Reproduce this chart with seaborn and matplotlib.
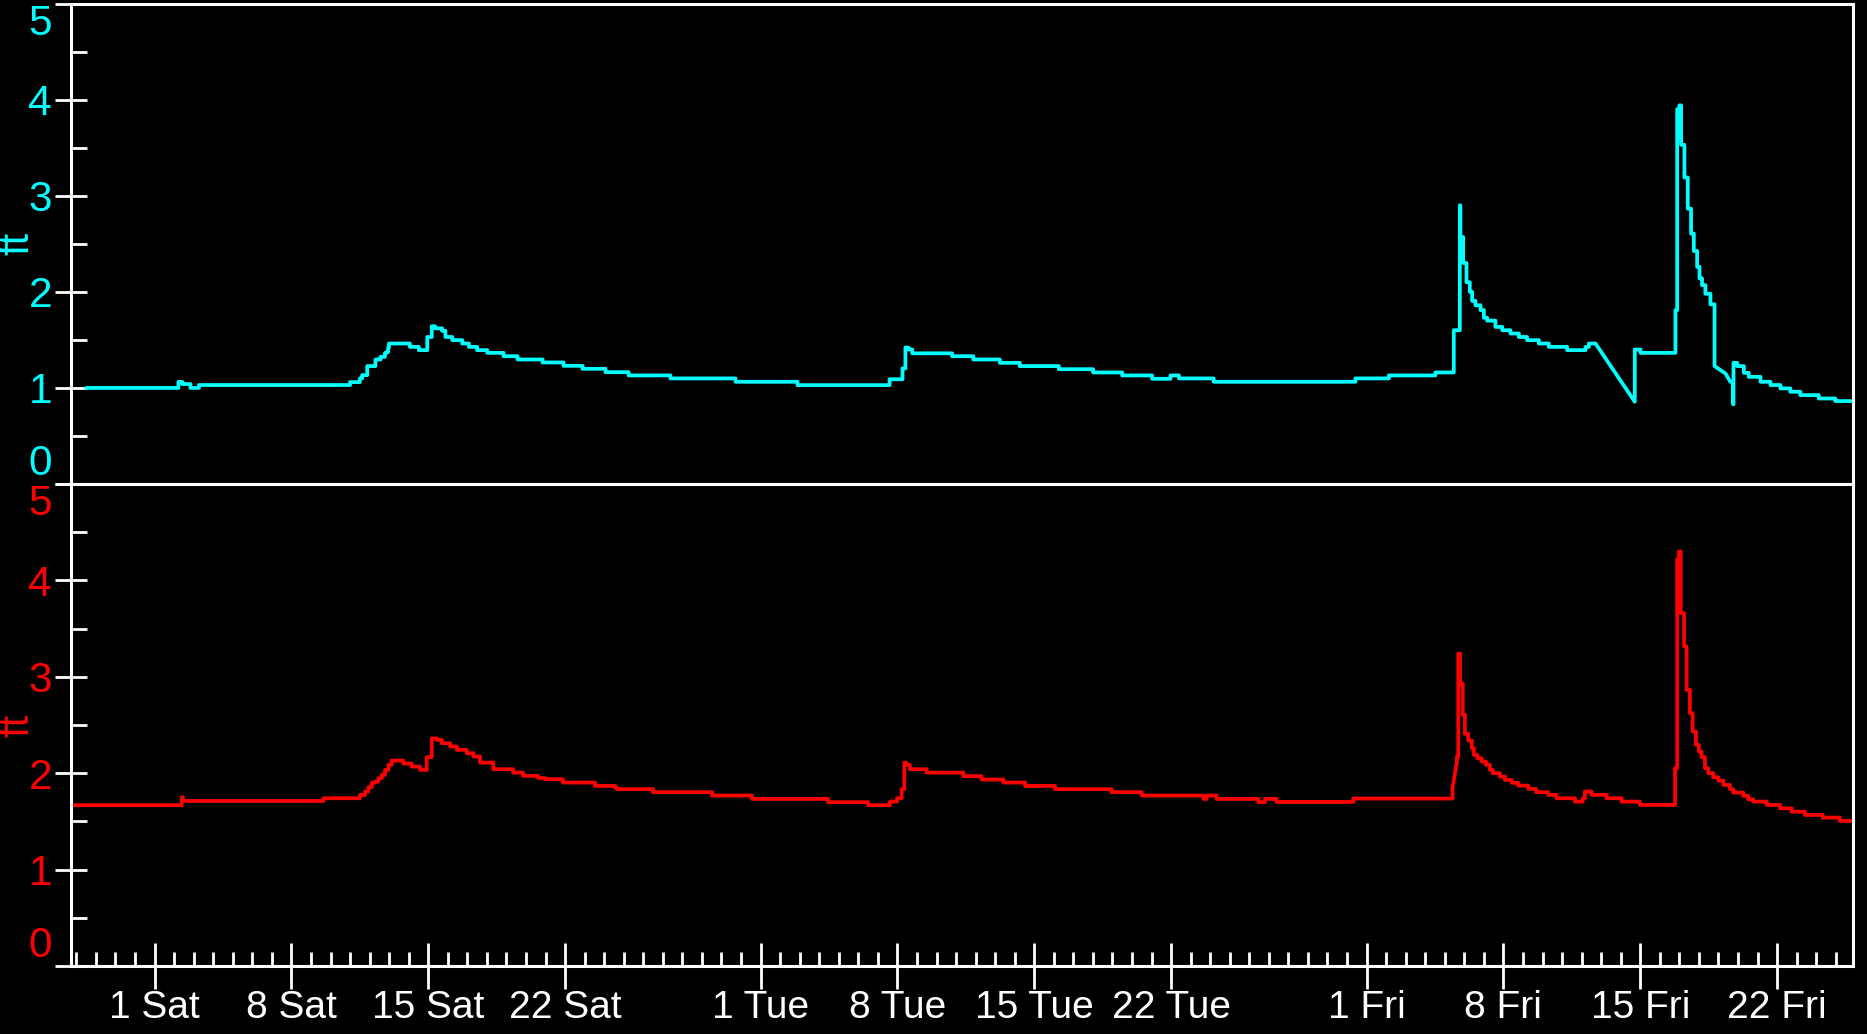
import pandas as pd
import matplotlib
matplotlib.use("Agg")
import matplotlib.pyplot as plt
import matplotlib.dates as mdates
from matplotlib.ticker import MultipleLocator, FuncFormatter
import seaborn as sns

start = pd.Timestamp("2017-07-01")

# readings: days after 1 Jul 2017 and the level (ft) held from then on
top_days = [-3.5, 1.22, 1.42, 1.84, 2.27, 10.0, 10.5, 10.62, 10.88, 11.3, 11.56, 11.78,
            11.86, 11.95, 11.99, 13.06, 13.52, 13.95, 14.18, 14.35, 14.71, 14.88, 15.23,
            15.74, 16.08, 16.5, 17.02, 17.85, 18.57, 19.85, 20.92, 21.89, 23.07, 24.25,
            26.39, 29.72, 32.89, 37.6, 38.26, 38.41, 38.57, 38.76, 40.8, 41.88, 43.24,
            44.26, 46.26, 48.01, 49.5, 51.03, 51.97, 52.4, 54.18, 61.43, 63.14, 65.52,
            66.46, 66.77, 66.8, 66.94, 67.11, 67.28, 67.40, 67.57, 67.83, 68.0, 68.17,
            68.59, 68.94, 69.36, 69.79, 70.21, 70.81, 71.32, 72.26, 73.2, 73.37, 73.71,
            75.72, 75.72, 76.01, 77.8, 77.89, 77.95, 78.0, 78.09, 78.26, 78.43, 78.60,
            78.74, 78.91, 79.03, 79.16, 79.33, 79.59, 79.80, 80.36, 80.61, 80.75, 80.77,
            80.96, 81.3, 81.55, 82.15, 82.66, 83.17, 83.68, 84.19, 85.13, 85.98, 86.88]
top_vals = [1.00, 1.063, 1.04, 1.00, 1.03, 1.06, 1.10, 1.133, 1.227, 1.296, 1.323, 1.36,
            1.375, 1.42, 1.462, 1.427, 1.393, 1.53, 1.642, 1.62, 1.594, 1.53, 1.497,
            1.462, 1.427, 1.393, 1.365, 1.33, 1.296, 1.265, 1.23, 1.199, 1.164, 1.13,
            1.099, 1.064, 1.029, 1.09, 1.203, 1.42, 1.40, 1.36, 1.33, 1.296, 1.261,
            1.227, 1.195, 1.161, 1.13, 1.095, 1.13, 1.099, 1.064, 1.099, 1.13, 1.161,
            1.60, 2.90, 2.57, 2.30, 2.10, 2.00, 1.906, 1.86, 1.81, 1.73, 1.70,
            1.635, 1.60, 1.566, 1.53, 1.497, 1.462, 1.427, 1.393, 1.427, 1.462, 1.462,
            0.856, 1.40, 1.365, 1.81, 3.90, 3.60, 3.94, 3.53, 3.19, 2.865, 2.606,
            2.425, 2.26, 2.14, 2.07, 1.98, 1.87, 1.227, 1.15, 1.064, 0.83, 1.261,
            1.227, 1.157, 1.115, 1.064, 1.03, 0.995, 0.96, 0.925, 0.89, 0.863, 0.863]
# readings reached by a straight run from the previous one (data gaps)
top_ramps = [(75.72, 0.856), (80.36, 1.15), (80.61, 1.064)]

bot_days = [-4.6, 1.39, 1.45, 8.64, 10.51, 10.77, 10.94, 11.11, 11.28, 11.45, 11.62, 11.79,
            11.96, 12.13, 12.73, 13.15, 13.58, 13.92, 14.18, 14.43, 14.69, 15.12, 15.46,
            15.97, 16.31, 16.65, 17.33, 18.34, 18.85, 19.62, 19.97, 20.89, 22.53, 23.55,
            23.66, 25.5, 28.52, 30.56, 34.45, 36.5, 37.62, 37.98, 38.22, 38.35, 38.45,
            38.64, 39.5, 41.37, 42.31, 43.42, 44.53, 46.06, 48.96, 50.5, 53.65, 53.82,
            54.33, 56.46, 56.8, 57.4, 61.32, 66.4, 66.61, 66.62, 66.69, 66.78, 66.92,
            67.03, 67.2, 67.38, 67.49, 67.66, 67.89, 68.11, 68.31, 68.45, 68.82, 69.08,
            69.42, 69.76, 70.27, 70.67, 71.29, 71.72, 72.66, 73.05, 73.17, 73.51, 74.28,
            75.05, 75.98, 77.78, 77.89, 77.95, 77.98, 78.07, 78.24, 78.37, 78.54, 78.68,
            78.85, 79.0, 79.14, 79.31, 79.48, 79.73, 79.99, 80.25, 80.59, 80.76, 81.27,
            81.52, 81.78, 82.47, 83.15, 83.74, 84.42, 85.33, 86.21, 86.88]
bot_vals = [1.668, 1.75, 1.712, 1.740, 1.775, 1.81, 1.855, 1.90, 1.913, 1.948, 1.982, 2.034,
            2.086, 2.131, 2.10, 2.068, 2.034, 2.166, 2.36, 2.346, 2.311, 2.277, 2.242,
            2.207, 2.173, 2.11, 2.041, 2.006, 1.972, 1.95, 1.937, 1.903, 1.868, 1.85,
            1.834, 1.803, 1.768, 1.733, 1.699, 1.668, 1.706, 1.74, 1.834, 2.11, 2.086,
            2.041, 2.006, 1.969, 1.934, 1.903, 1.868, 1.834, 1.803, 1.768, 1.733, 1.768,
            1.733, 1.70, 1.733, 1.702, 1.737, 1.85, 2.104, 2.173, 3.24, 2.93, 2.605,
            2.408, 2.339, 2.26, 2.19, 2.155, 2.12, 2.086, 2.034, 2.0, 1.965, 1.93,
            1.90, 1.871, 1.837, 1.803, 1.775, 1.74, 1.705, 1.74, 1.81, 1.775, 1.74,
            1.705, 1.671, 2.052, 4.22, 3.70, 4.30, 3.66, 3.315, 2.865, 2.623, 2.432,
            2.294, 2.224, 2.166, 2.052, 2.0, 1.958, 1.923, 1.878, 1.834, 1.799, 1.764,
            1.73, 1.705, 1.671, 1.636, 1.601, 1.567, 1.539, 1.505, 1.505]
bot_ramps = [(66.61, 2.104)]

x_first, x_last = -4.29, 86.88  # visible range, days after 1 Jul


def step_frame(days, vals, ramps):
    xs, ys = [days[0]], [vals[0]]
    for i in range(1, len(days)):
        if (days[i], vals[i]) not in ramps:
            xs.append(days[i])
            ys.append(vals[i - 1])
        xs.append(days[i])
        ys.append(vals[i])
    return pd.DataFrame({"time": start + pd.to_timedelta(xs, unit="D"), "ft": ys})


sns.set_theme(style="ticks", rc={"figure.facecolor": "black", "axes.facecolor": "black",
                                 "axes.edgecolor": "white", "savefig.facecolor": "black"})
plt.rcParams["font.family"] = ["Liberation Sans", "DejaVu Sans"]

fig = plt.figure(figsize=(18.67, 10.34), dpi=100)
ax_top = fig.add_axes([0.03787, 0.5319, 0.9546, 0.4647])
ax_bot = fig.add_axes([0.03787, 0.06576, 0.9546, 0.4662])

panels = [(ax_top, step_frame(top_days, top_vals, top_ramps), "#00ffff"),
          (ax_bot, step_frame(bot_days, bot_vals, bot_ramps), "#ff0000")]

for ax, df, col in panels:
    sns.lineplot(data=df, x="time", y="ft", ax=ax, color=col, linewidth=2.7,
                 sort=False, estimator=None)
    ax.set_xlim(start + pd.Timedelta(days=x_first), start + pd.Timedelta(days=x_last))
    ax.set_ylim(0, 5)
    ax.yaxis.set_major_locator(MultipleLocator(1))
    ax.yaxis.set_minor_locator(MultipleLocator(0.5))
    ax.tick_params(axis="y", which="major", direction="inout", length=23, width=2,
                   color="white", labelcolor=col, labelsize=30.5, pad=2, left=True)
    ax.tick_params(axis="y", which="minor", direction="in", length=11.5, width=2,
                   color="white", left=True)
    for side in ["top", "bottom", "left", "right"]:
        ax.spines[side].set_visible(True)
        ax.spines[side].set_color("white")
        ax.spines[side].set_linewidth(2.2)
    ax.set_xlabel("")
    ax.set_ylabel("ft", color=col, fontsize=30)
    ax.yaxis.set_label_coords(-0.0189, 0.5)

ax_top.tick_params(axis="x", which="both", bottom=False, labelbottom=False)

ax_bot.xaxis.set_major_locator(mdates.DayLocator(bymonthday=[1, 8, 15, 22]))
ax_bot.xaxis.set_minor_locator(mdates.DayLocator())
ax_bot.xaxis.set_major_formatter(
    FuncFormatter(lambda x, pos: f"{mdates.num2date(x).day} {mdates.num2date(x):%a}"))
ax_bot.tick_params(axis="x", which="major", direction="inout", length=33, width=2,
                   color="white", labelcolor="white", labelsize=28, pad=1, bottom=True)
ax_bot.tick_params(axis="x", which="minor", direction="in", length=10, width=2,
                   color="white", bottom=True)

# keep the end labels of each panel inside it
fig.canvas.draw()
for ax in (ax_top, ax_bot):
    for tick in ax.yaxis.get_major_ticks():
        if abs(tick.get_loc() - 5) < 1e-9:
            tick.label1.set_verticalalignment("top")
        elif abs(tick.get_loc()) < 1e-9:
            tick.label1.set_verticalalignment("bottom")

fig.savefig("out.png", dpi=100, facecolor="black")
